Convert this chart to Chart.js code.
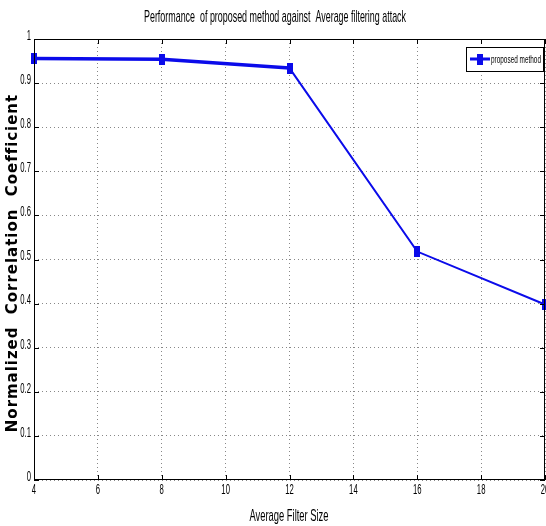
<!DOCTYPE html>
<html>
<head>
<meta charset="utf-8">
<script src="https://cdn.jsdelivr.net/npm/chart.js@4.4.0/dist/chart.umd.min.js"></script>
<style>
  html, body { margin: 0; padding: 0; background: #fff; }
  #wrap { width: 546px; height: 526px; }
</style>
</head>
<body>
<div id="wrap"><canvas id="chart" width="546" height="526"></canvas></div>
<script>
  var filterSizes = [4, 8, 12, 16, 20];
  var correlation = [0.956, 0.954, 0.934, 0.518, 0.398];
  var seriesName = 'proposed method';
  var chartTitle = 'Performance  of proposed method against  Average filtering attack';
  var xTitle = 'Average Filter Size';
  var yTitle = 'Normalized  Correlation  Coefficient';

  var font = '"Liberation Sans", Arial, sans-serif';
  var lineBlue = '#0b0bea';

  // tall square marker like the matlab plot
  var marker = document.createElement('canvas');
  marker.width = 6; marker.height = 11;
  var mctx = marker.getContext('2d');
  mctx.fillStyle = lineBlue;
  mctx.fillRect(0, 0, 6, 11);

  var points = filterSizes.map(function (x, i) { return { x: x, y: correlation[i] }; });

  function fmt(v) { return String(Number(v.toFixed(1))); }

  // squeeze text horizontally to look like the narrow matlab font
  function narrowText(ctx, text, x, y, align, sx) {
    ctx.save();
    var w = ctx.measureText(text).width * sx;
    var left = align === 'center' ? x - w / 2 : (align === 'right' ? x - w : x);
    ctx.translate(left, y);
    ctx.scale(sx, 1);
    ctx.textAlign = 'left';
    ctx.fillText(text, 0, 0);
    ctx.restore();
  }

  function fitText(ctx, text, cx, y, width) {
    narrowText(ctx, text, cx, y, 'center', width / ctx.measureText(text).width);
  }

  var frame = {
    id: 'frame',
    afterDraw: function (chart) {
      var ctx = chart.ctx, a = chart.chartArea;
      var xs = chart.scales.x, ys = chart.scales.y;
      ctx.save();
      ctx.strokeStyle = '#000';
      ctx.lineWidth = 1;
      ctx.strokeRect(a.left + 0.5, a.top + 0.5, a.right - a.left - 1, a.bottom - a.top - 1);
      // inner tick marks
      ctx.beginPath();
      xs.ticks.forEach(function (t) {
        var px = Math.round(xs.getPixelForValue(t.value)) + 0.5;
        ctx.moveTo(px, a.bottom); ctx.lineTo(px, a.bottom - 5);
        ctx.moveTo(px, a.top); ctx.lineTo(px, a.top + 5);
      });
      ys.ticks.forEach(function (t) {
        var py = Math.round(ys.getPixelForValue(t.value)) + 0.5;
        ctx.moveTo(a.left, py); ctx.lineTo(a.left + 5, py);
        ctx.moveTo(a.right, py); ctx.lineTo(a.right - 5, py);
      });
      ctx.stroke();

      // tick labels
      ctx.fillStyle = '#000';
      ctx.font = '14px ' + font;
      ctx.textBaseline = 'middle';
      ys.ticks.forEach(function (t) {
        narrowText(ctx, fmt(t.value), a.left - 3, ys.getPixelForValue(t.value) - 3, 'right', 0.55);
      });
      ctx.textBaseline = 'top';
      xs.ticks.forEach(function (t) {
        narrowText(ctx, String(t.value), xs.getPixelForValue(t.value), a.bottom + 3, 'center', 0.55);
      });

      // legend box
      var lx = 466, ly = 47, lw = 77, lh = 24;
      ctx.fillStyle = '#fff';
      ctx.fillRect(lx, ly, lw, lh);
      ctx.strokeRect(lx + 0.5, ly + 0.5, lw, lh);
      ctx.strokeStyle = lineBlue;
      ctx.lineWidth = 3;
      ctx.beginPath();
      ctx.moveTo(lx + 4, ly + 12); ctx.lineTo(lx + 24, ly + 12);
      ctx.stroke();
      ctx.drawImage(marker, lx + 11, ly + 7);
      ctx.fillStyle = '#000';
      ctx.font = '11px ' + font;
      ctx.textBaseline = 'middle';
      narrowText(ctx, seriesName, lx + 25, ly + 13, 'left', 50 / ctx.measureText(seriesName).width);

      // titles
      ctx.textBaseline = 'middle';
      ctx.font = '17px ' + font;
      fitText(ctx, chartTitle, 275, 17, 262);
      fitText(ctx, xTitle, 289, 516, 79);

      ctx.translate(13, 263);
      ctx.rotate(-Math.PI / 2);
      ctx.font = 'bold 15px "DejaVu Sans", sans-serif';
      var raw = ctx.measureText(yTitle).width;
      ctx.letterSpacing = Math.max(0, (337 - raw) / yTitle.length).toFixed(2) + 'px';
      ctx.textAlign = 'center';
      ctx.fillText(yTitle, 0, 0);
      ctx.restore();
    }
  };

  new Chart(document.getElementById('chart'), {
    type: 'line',
    data: {
      datasets: [{
        label: seriesName,
        data: points,
        borderColor: lineBlue,
        backgroundColor: lineBlue,
        borderWidth: 2,
        segment: {
          borderWidth: function (c) { return c.p1DataIndex <= 2 ? 3.5 : 2; }
        },
        pointStyle: marker,
        pointRadius: 5,
        tension: 0,
        clip: false
      }]
    },
    options: {
      responsive: false,
      animation: false,
      layout: { autoPadding: false, padding: { top: 39, right: 1, left: 0, bottom: 0 } },
      plugins: { legend: { display: false }, title: { display: false }, tooltip: { enabled: false } },
      scales: {
        x: {
          type: 'linear',
          min: 4, max: 20,
          afterFit: function (s) { s.height = 46; },
          ticks: { stepSize: 2, display: false },
          grid: { color: '#888', drawTicks: false },
          border: { display: false, dash: [1, 3] }
        },
        y: {
          min: 0, max: 1,
          afterFit: function (s) { s.width = 34; },
          ticks: { stepSize: 0.1, display: false },
          grid: { color: '#888', drawTicks: false },
          border: { display: false, dash: [1, 3] }
        }
      }
    },
    plugins: [frame]
  });
</script>
</body>
</html>
